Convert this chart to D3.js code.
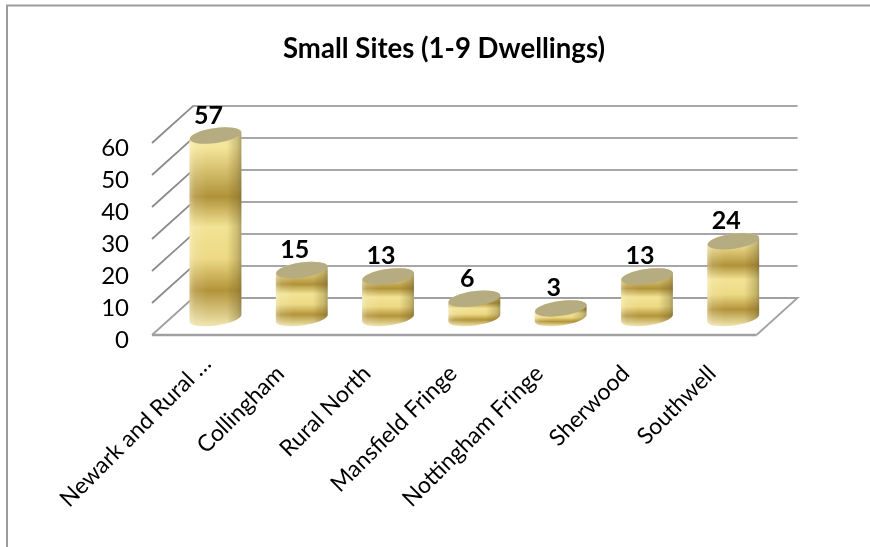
<!DOCTYPE html>
<html><head><meta charset="utf-8">
<script src="https://cdn.jsdelivr.net/npm/d3@7/dist/d3.min.js"></script>
<style>html,body{margin:0;padding:0;background:#fff}svg{display:block}text{font-family:Lato,"Noto Sans",sans-serif;fill:#000}</style>
</head><body><svg id="c" width="870" height="547"></svg>
<script>
const categories=["Newark and Rural …","Collingham","Rural North","Mansfield Fringe","Nottingham  Fringe","Sherwood","Southwell"];
const values=[57,15,13,6,3,13,24];
const yTicks=[0,10,20,30,40,50,60];
const title="Small Sites (1-9 Dwellings)";

const svg=d3.select("#c");
const y=d3.scaleLinear().domain([0,60]).range([335,143]);
const x=d3.scaleBand().domain(categories).range([172.3,776.4]).paddingInner(0.4).paddingOuter(0.2);
const depthX=41,depthY=37,frontL=152,frontR=756.5,baseLift=17;

const defs=svg.append("defs");
defs.append("filter").attr("id","soft").attr("x","-10%").attr("y","-10%").attr("width","120%").attr("height","120%")
  .append("feGaussianBlur").attr("stdDeviation",0.7);
defs.append("filter").attr("id","softT").attr("x","-5%").attr("y","-5%").attr("width","110%").attr("height","110%")
  .append("feGaussianBlur").attr("stdDeviation",0.35);
const g1=defs.append("linearGradient").attr("id","bands").attr("x1",0).attr("x2",0).attr("y1",0).attr("y2",1);
[[0,"#efe3a0"],[0.1,"#f5e69a"],[0.35,"#b0923a"],[0.5,"#f2e394"],[0.66,"#ecd984"],[0.82,"#b3943a"],[1,"#f0e6ae"]]
  .forEach(s=>g1.append("stop").attr("offset",s[0]).attr("stop-color",s[1]));
const g2=defs.append("linearGradient").attr("id","shade");
[[0,"#fff",0.35],[0.1,"#fff",0.12],[0.35,"#fff",0],[0.72,"#6d5a20",0],[0.93,"#6d5a20",0.3],[1,"#5c5a40",0.5]]
  .forEach(s=>g2.append("stop").attr("offset",s[0]).attr("stop-color",s[1]).attr("stop-opacity",s[2]));

// frame
const frame=svg.append("g").attr("fill","none").attr("stroke","#9c9c9c").attr("stroke-width",2).attr("filter","url(#softT)");
frame.append("path").attr("d",d3.line()([[7,547],[7,5.5],[870,5.5]]));

// walls
const grid=svg.append("g").attr("filter","url(#soft)").attr("fill","none");
grid.selectAll("path.g").data(yTicks.filter(d=>d>0)).join("path").attr("class","g")
  .attr("stroke","#8a8a8a").attr("stroke-width",1.7)
  .attr("d",d=>d3.line()([[frontL,y(d)],[frontL+depthX,y(d)-depthY],[frontR+depthX,y(d)-depthY]]));
grid.append("path").attr("stroke","#a0a0a0").attr("stroke-width",1.8)
  .attr("d",d3.line()([[frontL,y(0)],[frontL+depthX,y(0)-depthY],[frontR+depthX,y(0)-depthY],[frontR,y(0)]]));
grid.append("path").attr("stroke","#a0a0a0").attr("stroke-width",2.6)
  .attr("d",d3.line()([[frontL,y(0)],[frontR,y(0)]]));

// cylinders
const ang=-8,rx=()=>x.bandwidth()/2,ry=7.5;
const dy=()=>rx()*Math.sin(-ang*Math.PI/180);
const cyl=svg.append("g").attr("filter","url(#soft)").selectAll("g").data(categories.map((c,i)=>({c,v:values[i]}))).join("g");
const bodyPath=d=>{
  const l=x(d.c),r=l+x.bandwidth(),b=y(0)-baseLift,t=y(d.v)-baseLift;
  return `M${l},${t+dy()}L${l},${b+dy()}A${rx()},${ry} ${ang} 0 0 ${r},${b-dy()}L${r},${t-dy()}A${rx()},${ry} ${ang} 0 0 ${l},${t+dy()}Z`;
};
cyl.append("path").attr("d",bodyPath).attr("fill","url(#bands)");
cyl.append("path").attr("d",bodyPath).attr("fill","url(#shade)");
cyl.append("ellipse").attr("cx",0).attr("cy",0).attr("rx",rx()).attr("ry",ry)
  .attr("transform",d=>`translate(${x(d.c)+rx()},${y(d.v)-baseLift}) rotate(${ang})`)
  .attr("fill","#b6ac82");

// text
const txt=svg.append("g").attr("filter","url(#softT)");
txt.append("text").attr("x",444).attr("y",58).attr("text-anchor","middle")
  .attr("font-size",29).attr("font-weight",700).attr("textLength",322).attr("lengthAdjust","spacingAndGlyphs").text(title);
txt.selectAll("text.y").data(yTicks).join("text").attr("class","y")
  .attr("x",129).attr("y",d=>y(d)+12.5).attr("text-anchor","end").attr("font-size",24).text(d=>d);
txt.selectAll("text.v").data(categories).join("text").attr("class","v")
  .attr("x",c=>x(c)+rx()-7).attr("y",(c,i)=>y(values[i])-baseLift-12)
  .attr("text-anchor","middle").attr("font-size",25).attr("font-weight",700).text((c,i)=>values[i]);
txt.selectAll("text.c").data(categories).join("text").attr("class","c")
  .attr("transform",c=>{
    const cut=c.endsWith("…");
    return `translate(${x(c)+rx()-16+(cut?13:0)},${375-(cut?10:0)}) rotate(-45)`;
  })
  .attr("text-anchor","end").attr("font-size",23).text(c=>c);
</script></body></html>
